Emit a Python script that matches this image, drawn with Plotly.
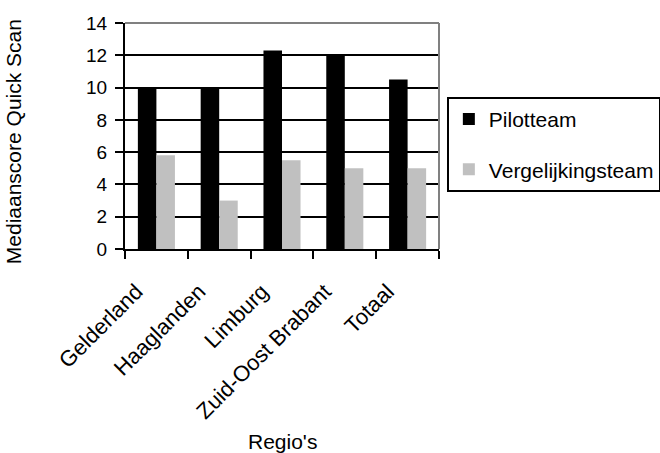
import plotly.graph_objects as go

regios = ["Gelderland", "Haaglanden", "Limburg", "Zuid-Oost Brabant", "Totaal"]
pilotteam = [10.0, 10.0, 12.3, 12.05, 10.5]
vergelijkingsteam = [5.8, 3.0, 5.5, 5.0, 5.0]
y_ticks = [0, 2, 4, 6, 8, 10, 12, 14]

FONT = "Liberation Sans, Arial, sans-serif"

fig = go.Figure()
fig.add_trace(go.Bar(
    x=regios, y=pilotteam, name="Pilotteam",
    marker=dict(color="#000000", line=dict(width=0)),
    legendgroup="a",
))
fig.add_trace(go.Bar(
    x=regios, y=vergelijkingsteam, name="Vergelijkingsteam",
    marker=dict(color="#c0c0c0", line=dict(width=0)),
    legendgroup="b",
))

fig.update_layout(
    width=660, height=453,
    margin=dict(l=125, r=221, t=23, b=204, autoexpand=False),
    paper_bgcolor="white", plot_bgcolor="white",
    barmode="group", bargap=0.41, bargroupgap=0.0,
    font=dict(family=FONT, size=21, color="#000000"),
    showlegend=True,
    legend=dict(
        x=1.025, y=0.673, xanchor="left", yanchor="top",
        bordercolor="#000000", borderwidth=2,
        font=dict(size=21), tracegroupgap=20,
        traceorder="grouped",
        itemwidth=30,
    ),
    xaxis=dict(
        type="category",
        showline=True, linecolor="#000000", linewidth=2,
        ticks="outside", ticklen=8, tickwidth=2, tickcolor="#000000",
        tickson="boundaries", tickangle=-45,
        ticklabelshift=-20, ticklabelstandoff=19,
        showgrid=False, mirror=False,
        tickfont=dict(size=22),
    ),
    yaxis=dict(
        range=[0, 14], tickvals=y_ticks,
        showline=True, linecolor="#000000", linewidth=2,
        ticks="outside", ticklen=8, tickwidth=2, tickcolor="#000000",
        ticklabelstandoff=4,
        showgrid=True, gridcolor="#000000", gridwidth=2,
        zeroline=False, tickfont=dict(size=19),
    ),
    shapes=[
        # grey frame on top and right of the plot area
        dict(type="line", xref="paper", yref="paper", x0=0, x1=1, y0=1, y1=1,
             line=dict(color="#808080", width=2)),
        dict(type="line", xref="paper", yref="paper", x0=1, x1=1, y0=0, y1=1,
             line=dict(color="#808080", width=2)),
    ],
    annotations=[
        dict(text="Mediaanscore Quick Scan", xref="paper", yref="paper",
             x=-0.355, y=0.475, xanchor="center", yanchor="middle",
             textangle=-90, showarrow=False, font=dict(size=21)),
        dict(text="Regio's", xref="paper", yref="paper",
             x=0.5, y=-0.85, xanchor="center", yanchor="middle",
             showarrow=False, font=dict(size=21)),
    ],
)

fig.write_html("out.html")
